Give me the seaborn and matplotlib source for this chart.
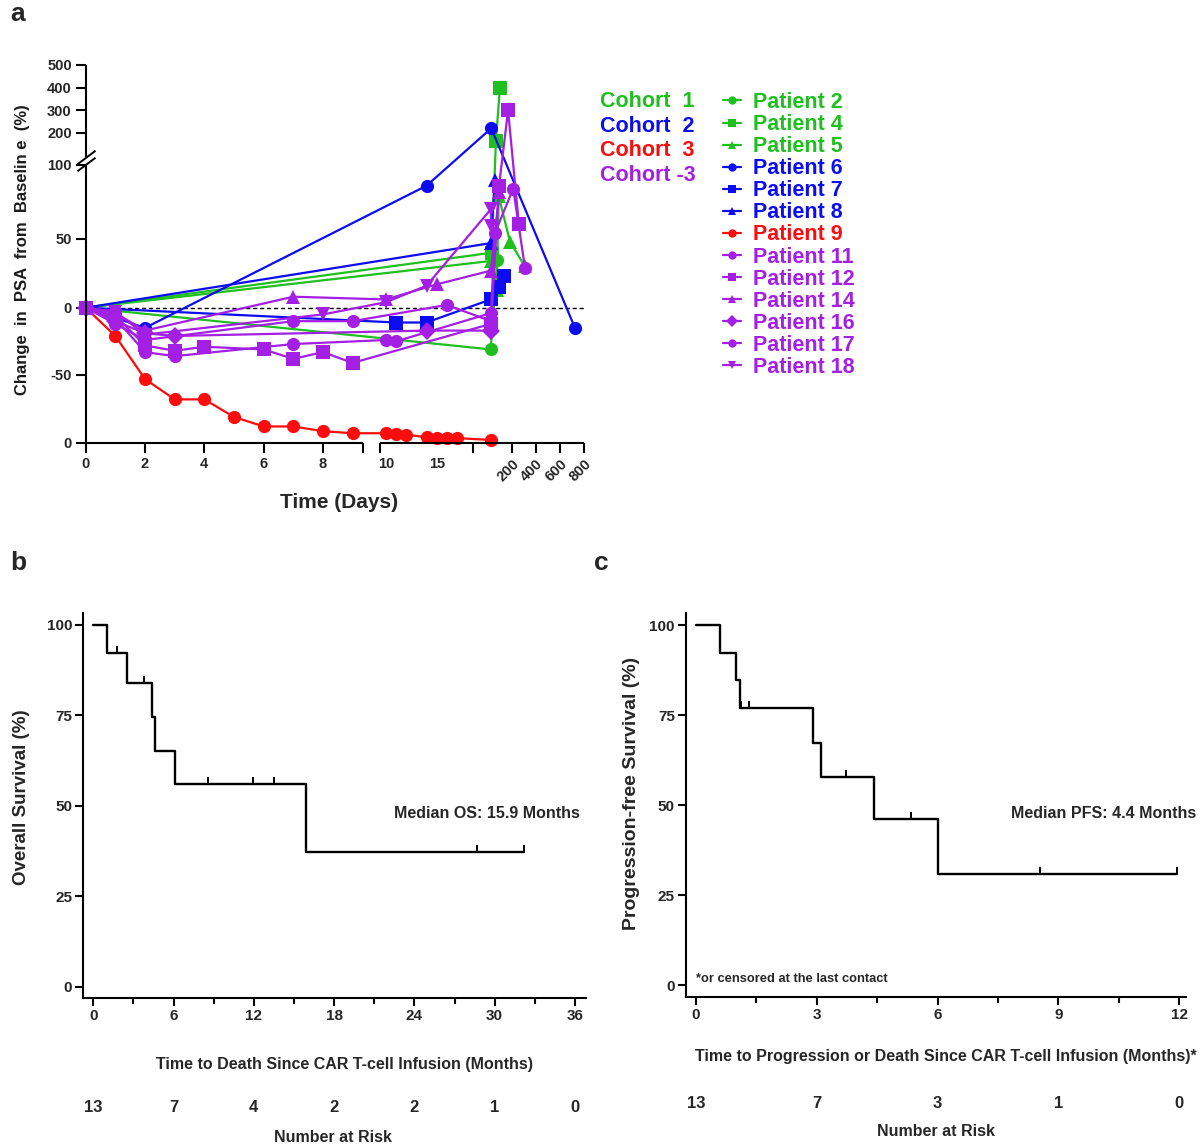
import numpy as np
import pandas as pd
import matplotlib
matplotlib.use("Agg")
import matplotlib.pyplot as plt
import matplotlib.transforms as mtransforms
from matplotlib.lines import Line2D
from matplotlib.path import Path
import seaborn as sns

# ---------------- panel a data (days, % change in PSA) ----------------
p2_days = [0, 25, 80]
p2_vals = [0, -31, 35]
p4_days = [0, 33, 69, 102]
p4_vals = [0, 40, 165, 400]
p5_days = [0, 25, 75, 92, 186, 311]
p5_vals = [0, 34, 13, 79, 48, 30]
p6_days = [0, 2, 14, 30, 727]
p6_vals = [0, -15, 86, 220, -15]
p7_days = [0, 11, 14, 25, 97, 138]
p7_vals = [0, -11, -11, 6, 15, 23]
p8_days = [0, 25, 61]
p8_vals = [0, 47, 90]
p9_days = [0, 1, 2, 3, 4, 5, 6, 7, 8, 9, 10, 11, 12, 14, 15, 16, 17, 28]
p9_vals = [0, -21, -53, -68, -68, -81, -88, -88, -91.5, -93, -93, -93.5, -94, -96, -96.4, -96.6, -96.6, -98]
p11_days = [0, 1, 2, 3, 7, 10, 11, 28, 60, 213, 311]
p11_vals = [0, -8, -33, -36, -27, -24, -25, -4, 54, 84, 29]
p12_days = [0, 1, 2, 3, 4, 6, 7, 8, 9, 28, 95, 170, 260]
p12_vals = [0, -6, -28, -32, -29, -31, -38, -33, -41, -12, 86, 300, 60]
p14_days = [0, 1, 2, 7, 10, 15, 28, 97]
p14_vals = [0, -4, -17, 8, 6, 17, 27, 82]
p16_days = [0, 1, 2, 3, 14, 28]
p16_vals = [0, -10, -19, -21, -17, -17]
p17_days = [0, 1, 2, 7, 9, 16, 28]
p17_vals = [0, -12, -24, -10, -10, 2, -10]
p18_days = [0, 1, 2, 8, 10, 14, 25, 30]
p18_vals = [0, -3, -20, -5, 4, 16, 70, 59]

patient_names = ["Patient 2", "Patient 4", "Patient 5", "Patient 6", "Patient 7", "Patient 8",
                 "Patient 9", "Patient 11", "Patient 12", "Patient 14", "Patient 16", "Patient 17",
                 "Patient 18"]
patient_days = [p2_days, p4_days, p5_days, p6_days, p7_days, p8_days, p9_days,
                p11_days, p12_days, p14_days, p16_days, p17_days, p18_days]
patient_vals = [p2_vals, p4_vals, p5_vals, p6_vals, p7_vals, p8_vals, p9_vals,
                p11_vals, p12_vals, p14_vals, p16_vals, p17_vals, p18_vals]
patient_markers = ["o", "s", "^", "o", "s", "^", "o", "o", "s", "^", "D", "o", "v"]

GREEN, BLUE, RED, PURPLE = "#1fbf1f", "#0c0cf2", "#fc0c0c", "#a41fe4"
patient_colors = [GREEN, GREEN, GREEN, BLUE, BLUE, BLUE, RED,
                  PURPLE, PURPLE, PURPLE, PURPLE, PURPLE, PURPLE]
cohort_labels = ["Cohort  1", "Cohort  2", "Cohort  3", "Cohort -3"]
cohort_colors = [GREEN, BLUE, RED, PURPLE]

ya_ticks = [-100, -50, 0, 50, 100, 200, 300, 400, 500]
ya_labels = ["0", "-50", "0", "50", "100", "200", "300", "400", "500"]
xa_ticks = [0, 2, 4, 6, 8, 9.35, 9.45, 10, 15, 18.6, 200, 400, 600, 800]
xa_labels = ["0", "2", "4", "6", "8", "", "", "10", "15", "", "200", "400", "600", "800"]

# ---------------- panels b / c data (months) ----------------
os_times = [1.0, 1.8, 2.5, 3.8, 4.4, 4.6, 6.1, 8.6, 11.9, 13.5, 15.9, 28.7, 32.2]
os_event = [1, 0, 1, 0, 1, 1, 1, 0, 0, 0, 1, 0, 0]
os_risk_t = [0, 6, 12, 18, 24, 30, 36]
os_risk_n = [13, 7, 4, 2, 2, 1, 0]

pfs_times = [0.6, 1.0, 1.1, 1.12, 1.32, 2.9, 3.1, 3.73, 4.41, 5.33, 6.0, 8.54, 11.94]
pfs_event = [1, 1, 1, 0, 0, 1, 1, 0, 1, 0, 1, 0, 0]
pfs_risk_t = [0, 3, 6, 9, 12]
pfs_risk_n = [13, 7, 3, 1, 0]

# ---------------- style ----------------
sns.set_theme(style="ticks")
REG = ["Liberation Sans", "DejaVu Sans"]
plt.rcParams["font.family"] = REG
plt.rcParams["font.weight"] = "bold"
plt.rcParams["axes.linewidth"] = 1.5
plt.rcParams["axes.edgecolor"] = "black"

W, H = 1200, 1145
def fx(px):
    return px / W
def fy(py):
    return 1 - py / H

fig = plt.figure(figsize=(12, 11.45), dpi=100)
fig.patch.set_facecolor("white")


def piecewise(xa, ya):
    xa = np.asarray(xa, float)
    ya = np.asarray(ya, float)
    s0 = (ya[1] - ya[0]) / (xa[1] - xa[0])
    s1 = (ya[-1] - ya[-2]) / (xa[-1] - xa[-2])
    def f(v):
        v = np.asarray(v, float)
        out = np.interp(v, xa, ya)
        out = np.where(v < xa[0], ya[0] + (v - xa[0]) * s0, out)
        out = np.where(v > xa[-1], ya[-1] + (v - xa[-1]) * s1, out)
        return out
    return f


def place_label(ax, which, text, px, py, **kw):
    bb = ax.get_position()
    ax_x = (fx(px) - bb.x0) / bb.width
    ax_y = (fy(py) - bb.y0) / bb.height
    if which == "x":
        ax.set_xlabel(text, ha="center", va="center", **kw)
        ax.xaxis.set_label_coords(ax_x, ax_y)
    else:
        ax.set_ylabel(text, ha="center", va="center", rotation=90, **kw)
        ax.yaxis.set_label_coords(ax_x, ax_y)


# ======================= panel a =======================
axa = fig.add_axes([fx(85.7), fy(442.7), (583.7 - 85.7) / W, (442.7 - 65) / H])
frames = [pd.DataFrame({"patient": n, "day": d, "value": v})
          for n, d, v in zip(patient_names, patient_days, patient_vals)]
df = pd.concat(frames, ignore_index=True)
sns.lineplot(data=df, x="day", y="value", hue="patient", style="patient",
             hue_order=patient_names, style_order=patient_names,
             palette=dict(zip(patient_names, patient_colors)),
             markers=dict(zip(patient_names, patient_markers)), dashes=False,
             estimator=None, sort=False, lw=1.6, markersize=9.5,
             markeredgewidth=0, legend=False, clip_on=False, ax=axa)
axa.axhline(0, color="black", lw=1.0, ls=(0, (3, 2)), zorder=0)

# segmented (broken) axes in GraphPad style
x_anchor_days = [0, 9.35, 9.45, 18.6, 18.7, 800]
x_anchor_px = [85.7, 363.0, 380.4, 473.2, 489.9, 583.7]
y_anchor_vals = [-100, -50, 0, 50, 100, 150, 500]
y_anchor_px = [442.7, 375.0, 307.7, 239.0, 165.0, 144.1, 65.0]
xh = np.array(x_anchor_px) - x_anchor_px[0]
yh = y_anchor_px[0] - np.array(y_anchor_px)
axa.set_xscale("function", functions=(piecewise(x_anchor_days, xh), piecewise(xh, x_anchor_days)))
axa.set_yscale("function", functions=(piecewise(y_anchor_vals, yh), piecewise(yh, y_anchor_vals)))
axa.set_xlim(0, 800)
axa.set_ylim(-100, 500)

for s in ["top", "right", "left", "bottom"]:
    axa.spines[s].set_visible(False)
xt = axa.get_xaxis_transform()
yt = axa.get_yaxis_transform()
axa.plot([0, 9.35], [0, 0], transform=xt, color="black", lw=1.5, clip_on=False, solid_capstyle="butt")
axa.plot([9.45, 800], [0, 0], transform=xt, color="black", lw=1.5, clip_on=False, solid_capstyle="butt")
axa.plot([0, 0], [-100, 103], transform=yt, color="black", lw=1.5, clip_on=False, solid_capstyle="butt")
axa.plot([0, 0], [118, 500], transform=yt, color="black", lw=1.5, clip_on=False, solid_capstyle="butt")
brk = Path([(-1.0, -0.75), (1.0, 0.75)])
axa.plot([0, 0], [103, 118], transform=yt, ls="none", marker=brk, ms=13, mew=1.4,
         color="black", clip_on=False)

axa.set_yticks(ya_ticks, ya_labels)
axa.set_xticks(xa_ticks, xa_labels)
axa.minorticks_off()
axa.tick_params(axis="both", direction="out", length=7, width=1.5, color="black",
                labelsize=10.5, pad=3, bottom=True, left=True)
for t, pos in zip(axa.xaxis.get_major_ticks(), xa_ticks):
    if pos in (10, 15):
        t.tick1line.set_visible(False)
    if pos >= 200:
        t.label1.set_rotation(45)
        t.label1.set_ha("right")
        t.label1.set_va("top")
        t.label1.set_rotation_mode("anchor")
place_label(axa, "x", "Time (Days)", 339, 502, fontsize=15, fontweight="bold")
place_label(axa, "y", "Change  in  PSA  from  Baselin e  (%)", 23, 250, fontsize=12,
            fontweight="bold", color="#1a1a1a")

# cohort captions and patient legend
for i, (lab, col) in enumerate(zip(cohort_labels, cohort_colors)):
    fig.text(fx(600), fy(101.5 + 24.7 * i), lab, color=col, fontsize=15.5, fontweight="bold",
             ha="left", va="center")
handles = [Line2D([], [], color=c, marker=m, ms=6, lw=1.6, mew=0)
           for c, m in zip(patient_colors, patient_markers)]
fig.legend(handles, patient_names, loc="upper left", bbox_to_anchor=(fx(723), fy(92)),
           frameon=False, handlelength=0.85, handletextpad=0.55, labelspacing=0.05,
           borderpad=0, borderaxespad=0, prop={"weight": "bold", "size": 15.5},
           labelcolor=patient_colors)


# ======================= panels b / c =======================
def km_steps(times, events):
    order = np.argsort(times)
    t = np.asarray(times, float)[order]
    e = np.asarray(events)[order]
    n = len(t)
    s = 100.0
    xs, ys, cx, cy = [0.0], [100.0], [], []
    for i, (ti, ei) in enumerate(zip(t, e)):
        at_risk = n - i
        if ei:
            s *= (at_risk - 1) / at_risk
            xs.append(ti)
            ys.append(s)
        else:
            cx.append(ti)
            cy.append(s)
    xs.append(t.max())
    ys.append(s)
    return xs, ys, cx, cy


censor_marker = Path([(0, 0), (0, 1)])
TICKFS = 11


def km_panel(ax, times, events, xmajor, xminor, xlim, ylim):
    xs, ys, cx, cy = km_steps(times, events)
    sns.lineplot(x=xs, y=ys, drawstyle="steps-post", estimator=None, sort=False,
                 color="black", lw=1.7, ax=ax)
    ax.plot(cx, cy, ls="none", marker=censor_marker, ms=10, mew=1.4, color="black",
            clip_on=False)
    ax.set_xlim(*xlim)
    ax.set_ylim(*ylim)
    ax.set_xticks(xmajor, [str(v) for v in xmajor], fontsize=TICKFS, fontweight="bold")
    ax.set_xticks(xminor, minor=True)
    ax.set_yticks([0, 25, 50, 75, 100], ["0", "25", "50", "75", "100"],
                  fontsize=TICKFS, fontweight="bold")
    ax.tick_params(axis="both", which="major", direction="out", length=6, width=1.5,
                   color="black", pad=2, bottom=True, left=True)
    ax.tick_params(axis="x", which="minor", direction="out", length=4, width=1.5,
                   color="black", bottom=True)
    ax.tick_params(axis="y", which="minor", left=False)
    sns.despine(ax=ax)


axb = fig.add_axes([fx(83.4), fy(998), (585.8 - 83.4) / W, (998 - 613) / H])
km_panel(axb, os_times, os_event, list(range(0, 37, 6)), list(range(3, 37, 6)),
         (-0.74, 36.81), (-3.12, 103.3))
axc = fig.add_axes([fx(686), fy(997.3), (1186 - 686) / W, (997.3 - 613.3) / H])
km_panel(axc, pfs_times, pfs_event, list(range(0, 13, 3)), [1.5, 4.5, 7.5, 10.5],
         (-0.25, 12.17), (-3.4, 103.25))

place_label(axb, "x", "Time to Death Since CAR T-cell Infusion (Months)", 345, 1065,
            fontsize=11.5, fontweight="bold")
place_label(axb, "y", "Overall Survival (%)", 22, 797, fontsize=13.5, fontweight="bold")
place_label(axc, "x", "Time to Progression or Death Since CAR T-cell Infusion (Months)*",
            946, 1057, fontsize=11.5, fontweight="bold")
place_label(axc, "y", "Progression-free Survival (%)", 632, 793, fontsize=14,
            fontweight="bold")

fig.text(fx(580), fy(813), "Median OS: 15.9 Months", ha="right", va="center",
         fontsize=11.5, fontweight="bold")
fig.text(fx(1196), fy(813), "Median PFS: 4.4 Months", ha="right", va="center",
         fontsize=11.5, fontweight="bold")
fig.text(fx(696), fy(979), "*or censored at the last contact", ha="left", va="center",
         fontsize=9.3, fontweight="bold")

tb = mtransforms.blended_transform_factory(axb.transData, fig.transFigure)
for t, n in zip(os_risk_t, os_risk_n):
    axb.text(t, fy(1108), str(n), transform=tb, ha="center", va="center", fontsize=12,
             fontweight="bold")
tc = mtransforms.blended_transform_factory(axc.transData, fig.transFigure)
for t, n in zip(pfs_risk_t, pfs_risk_n):
    axc.text(t, fy(1104), str(n), transform=tc, ha="center", va="center", fontsize=12,
             fontweight="bold")
fig.text(fx(333), fy(1137), "Number at Risk", ha="center", va="center", fontsize=11.5,
         fontweight="bold")
fig.text(fx(936), fy(1132), "Number at Risk", ha="center", va="center", fontsize=11.5,
         fontweight="bold")

# panel letters
fig.text(fx(10), fy(14), "a", fontsize=19, fontweight="bold", ha="left", va="center")
fig.text(fx(10), fy(563), "b", fontsize=19, fontweight="bold", ha="left", va="center")
fig.text(fx(594), fy(563), "c", fontsize=19, fontweight="bold", ha="left", va="center")

fig.savefig("out.png", dpi=100, facecolor="white")
